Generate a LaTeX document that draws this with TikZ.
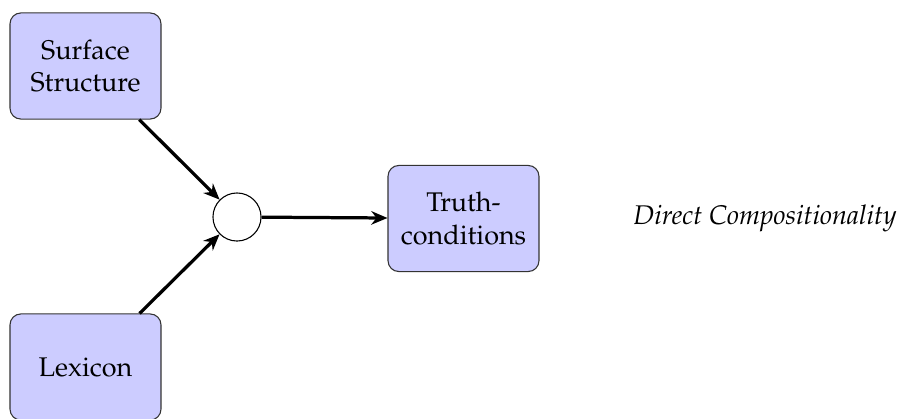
\documentclass[tikz,border=0pt]{standalone}
\usepackage[T1]{fontenc}
\usepackage{mathpazo}
\usetikzlibrary{arrows.meta}
\begin{document}
\begin{tikzpicture}[x=0.37037pt,y=-0.37037pt,
  stage/.style={draw=black!80,line width=0.4pt,fill=blue!20,rounded corners=4pt,
    minimum width=55.9pt,minimum height=39.3pt,align=center,inner sep=2pt},
  joint/.style={circle,draw=black,line width=0.4pt,fill=white,minimum size=17.8pt,inner sep=0pt},
  flow/.style={-{Stealth[length=6pt,width=5pt]},line width=1.2pt}]
  \useasboundingbox (0,0) rectangle (898,419);
  \node[stage] (surface) at (85.5,66) {Surface\\Structure};
  \node[stage] (lexicon) at (85.5,367) {Lexicon};
  \node[joint] (comb) at (237,217) {};
  \node[stage] (truth) at (463.5,218.5) {Truth-\\conditions};
  \node[font=\itshape] (label) at (765,218) {Direct Compositionality};
  \draw[flow] (surface) -- (comb);
  \draw[flow] (lexicon) -- (comb);
  \draw[flow] (comb) -- (truth);
\end{tikzpicture}
\end{document}
